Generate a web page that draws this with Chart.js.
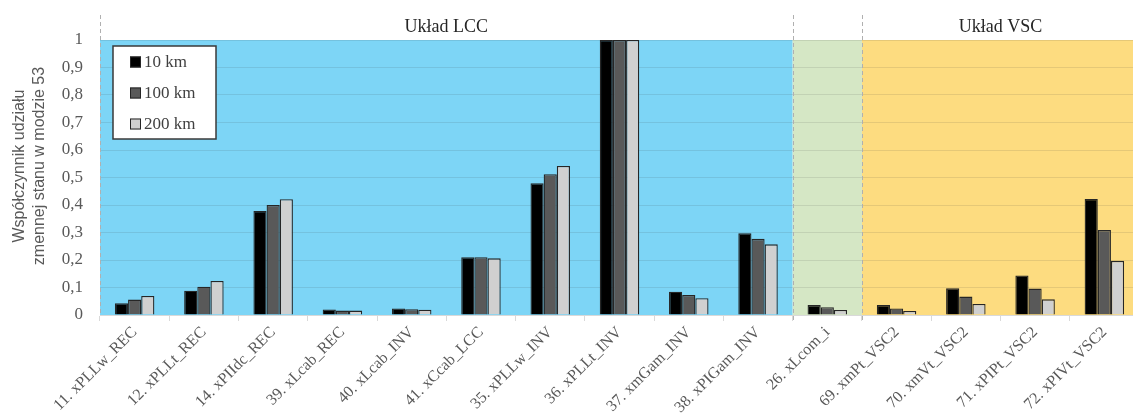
<!DOCTYPE html>
<html>
<head>
<meta charset="utf-8">
<script src="https://cdn.jsdelivr.net/npm/chart.js@4"></script>
<style>
html,body{margin:0;padding:0;background:#fff;overflow:hidden;width:1133px;height:415px;}
#wrap{width:1139px;height:415px;}
</style>
</head>
<body>
<div id="wrap"><canvas id="c" width="1139" height="415"></canvas></div>
<script>
const categories = ["11. xPLLw_REC","12. xPLLt_REC","14. xPIIdc_REC","39. xLcab_REC","40. xLcab_INV","41. xCcab_LCC","35. xPLLw_INV","36. xPLLt_INV","37. xmGam_INV","38. xPIGam_INV","26. xLcom_i","69. xmPt_VSC2","70. xmVt_VSC2","71. xPIPt_VSC2","72. xPIVt_VSC2"];
const seriesNames = ["10 km","100 km","200 km"];
const km10  = [0.043,0.088,0.378,0.020,0.024,0.210,0.479,1.000,0.085,0.297,0.036,0.036,0.097,0.144,0.422];
const km100 = [0.056,0.103,0.400,0.016,0.021,0.210,0.512,1.000,0.073,0.277,0.028,0.024,0.067,0.096,0.309];
const km200 = [0.069,0.124,0.421,0.016,0.019,0.206,0.542,1.000,0.061,0.257,0.018,0.015,0.040,0.057,0.197];
const yTicks = [0,0.1,0.2,0.3,0.4,0.5,0.6,0.7,0.8,0.9,1];
const groupFirst = [0,10,11];
const groupLast  = [9,10,14];
const groupTitles = ["Układ LCC","","Układ VSC"];
const yTitle = ["Współczynnik udziału","zmennej stanu w modzie 53"];

const regionColors = ["#7dd5f6","#d5e7c5","#fddc80"];
const barColors = ["#000000","#595959","#d0d0d0"];

const regionsPlugin = {
  id:'regions',
  beforeDraw(chart){
    const ctx = chart.ctx, x = chart.scales.x, a = chart.chartArea;
    const half = (x.getPixelForValue(1) - x.getPixelForValue(0))/2;
    ctx.save();
    for(let g=0; g<groupFirst.length; g++){
      const l = x.getPixelForValue(groupFirst[g]) - half;
      const r = x.getPixelForValue(groupLast[g]) + half;
      ctx.fillStyle = regionColors[g];
      ctx.fillRect(l, a.top, r-l, a.bottom-a.top);
    }
    ctx.restore();
  },
  afterDraw(chart){
    const ctx = chart.ctx, x = chart.scales.x, a = chart.chartArea;
    const half = (x.getPixelForValue(1) - x.getPixelForValue(0))/2;
    ctx.save();
    // y axis title
    ctx.fillStyle = "#595959";
    ctx.font = "16px 'Liberation Sans'";
    ctx.textAlign = "center";
    ctx.textBaseline = "middle";
    yTitle.forEach((t,i)=>{
      ctx.save();
      ctx.translate(20 + i*20, 166);
      ctx.rotate(-Math.PI/2);
      ctx.fillText(t, 0, 0);
      ctx.restore();
    });
    // dashed separators
    ctx.strokeStyle = "#b0b0b0";
    ctx.lineWidth = 1;
    ctx.setLineDash([4,3]);
    const seps = [x.getPixelForValue(groupFirst[0]) - half];
    for(let g=1; g<groupFirst.length; g++) seps.push(x.getPixelForValue(groupFirst[g]) - half);
    seps.forEach((sx,i)=>{
      const px = Math.round(sx)+0.5;
      ctx.beginPath();
      ctx.moveTo(px, a.top-25);
      ctx.lineTo(px, a.bottom + (i===0?0:6));
      ctx.stroke();
    });
    ctx.setLineDash([]);
    // group titles
    ctx.fillStyle = "#262626";
    ctx.font = "18px 'Liberation Serif'";
    ctx.textAlign = "center";
    ctx.textBaseline = "middle";
    for(let g=0; g<groupFirst.length; g++){
      if(!groupTitles[g]) continue;
      const l = x.getPixelForValue(groupFirst[g]) - half;
      const r = x.getPixelForValue(groupLast[g]) + half;
      ctx.fillText(groupTitles[g], (l+r)/2, a.top-13);
    }
    // legend box
    const bx = a.left+13, by = a.top+6, bw = 103, bh = 93;
    ctx.fillStyle = "#ffffff";
    ctx.fillRect(bx, by, bw, bh);
    ctx.strokeStyle = "#3a3a3a";
    ctx.lineWidth = 1.5;
    ctx.strokeRect(bx, by, bw, bh);
    ctx.font = "17px 'Liberation Serif'";
    ctx.textAlign = "left";
    chart.data.datasets.forEach((ds,i)=>{
      const cy = by + 16 + i*31;
      ctx.fillStyle = ds.backgroundColor;
      ctx.fillRect(bx+17, cy-5.5, 11, 11);
      ctx.strokeStyle = "#262626";
      ctx.lineWidth = 1;
      ctx.strokeRect(bx+17.5, cy-5, 10, 10);
      ctx.fillStyle = "#404040";
      ctx.fillText(ds.label, bx+31, cy+1);
    });
    ctx.restore();
  }
};

new Chart(document.getElementById('c'), {
  type:'bar',
  data:{
    labels: categories,
    datasets:[
      {label:seriesNames[0], data:km10, backgroundColor:barColors[0]},
      {label:seriesNames[1], data:km100, backgroundColor:barColors[1]},
      {label:seriesNames[2], data:km200, backgroundColor:barColors[2]}
    ]
  },
  options:{
    responsive:false,
    devicePixelRatio:1,
    animation:false,
    layout:{padding:{top:40,right:0,left:0,bottom:0}},
    datasets:{bar:{categoryPercentage:0.57,barPercentage:1.0,borderColor:"#262626",borderWidth:1.3,borderSkipped:'bottom'}},
    plugins:{legend:{display:false},tooltip:{enabled:false}},
    scales:{
      x:{
        grid:{display:true,drawOnChartArea:false,drawTicks:true,tickLength:6,color:"#d9d9d9",offset:true},
        border:{display:true,color:"#d9d9d9",width:1},
        ticks:{maxRotation:45,minRotation:45,autoSkip:false,color:"#595959",font:{family:"'Liberation Serif'",size:16},padding:2},
        afterFit(s){ s.height = 100; }
      },
      y:{
        min:0,max:1,
        afterBuildTicks(s){ s.ticks = yTicks.map(v=>({value:v})); },
        grid:{color:"rgba(60,60,60,0.12)",drawTicks:false},
        border:{display:false},
        ticks:{color:"#595959",padding:17,font:{family:"'Liberation Serif'",size:17},callback:(v)=>String(Math.round(v*10)/10).replace('.',',')},
        afterFit(s){ s.width = 100; }
      }
    }
  },
  plugins:[regionsPlugin]
});
</script>
</body>
</html>
